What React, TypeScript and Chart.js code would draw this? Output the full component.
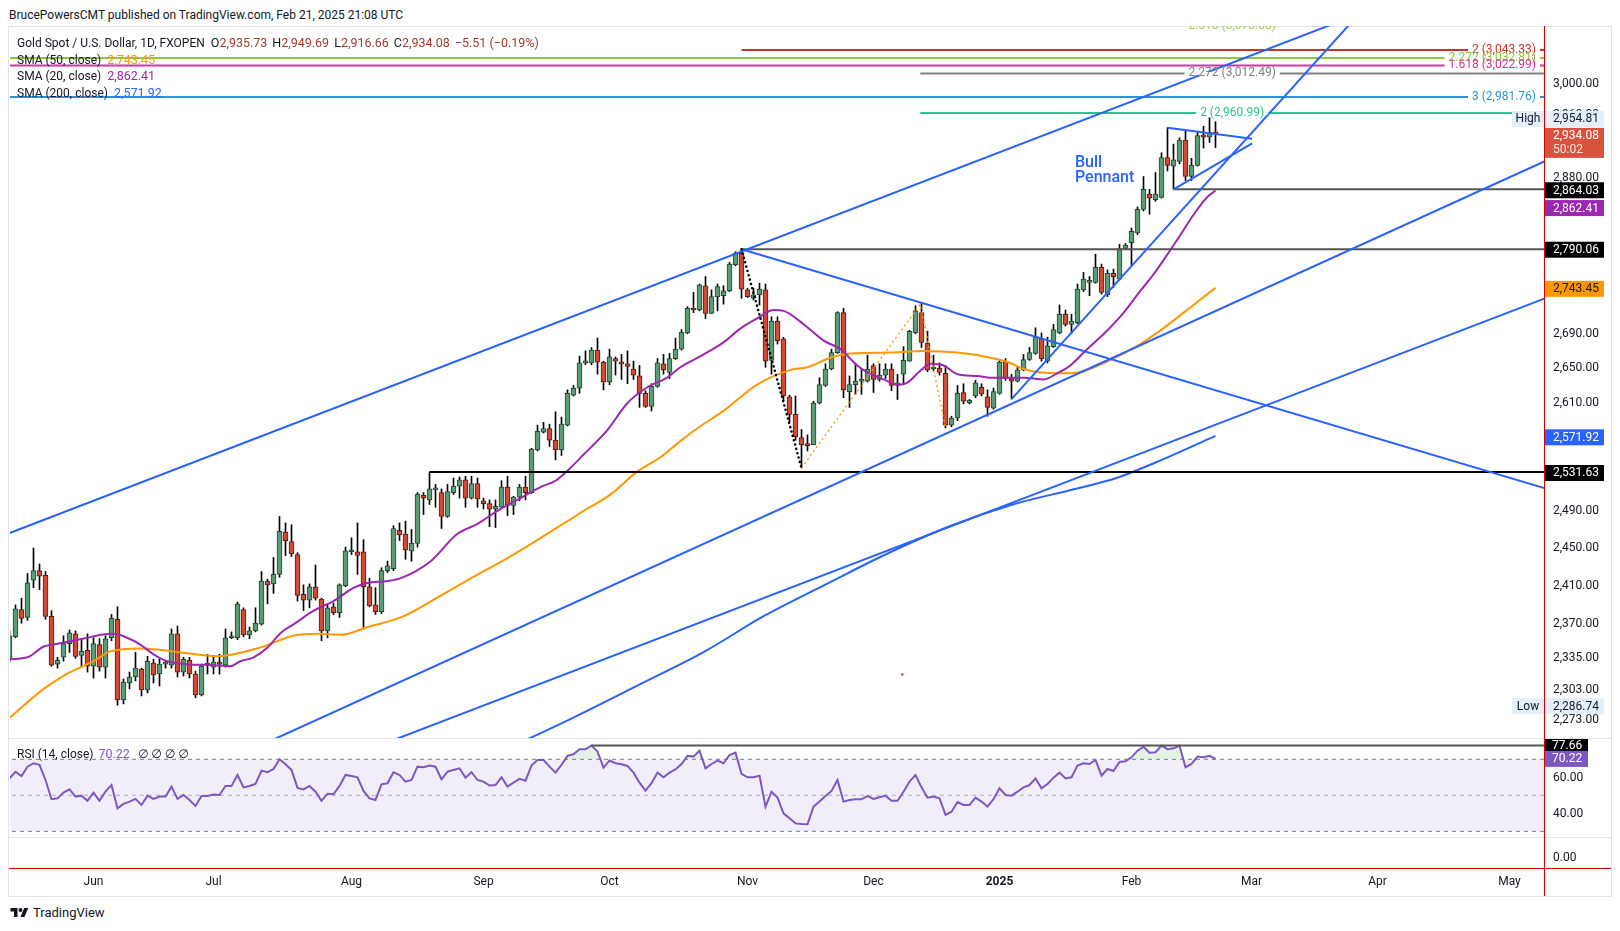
import React, { useEffect, useRef } from 'react';
import { Chart, registerables } from 'chart.js';

Chart.register(...registerables);

const FONT = 'Roboto, "Noto Sans", "DejaVu Sans", sans-serif';
const TEXT = '#131722';

// ---------------- candles (XAUUSD daily, May 14 2024 .. Feb 21 2025) ----------------
const opens = [
  2334, 2356, 2384, 2376, 2415, 2425, 2420, 2377, 2328, 2335,
  2349, 2359, 2337, 2342, 2326, 2348, 2325, 2355, 2374, 2292,
  2309, 2315, 2323, 2302, 2329, 2318, 2328, 2327, 2359, 2320,
  2332, 2318, 2297, 2327, 2325, 2330, 2327, 2355, 2355, 2384,
  2358, 2362, 2369, 2414, 2411, 2421, 2466, 2456, 2442, 2400,
  2394, 2408, 2395, 2362, 2387, 2381, 2409, 2445, 2445, 2445,
  2408, 2389, 2382, 2425, 2427, 2468, 2464, 2446, 2454, 2506,
  2501, 2512, 2509, 2483, 2509, 2516, 2523, 2503, 2519, 2500,
  2497, 2491, 2493, 2515, 2495, 2504, 2515, 2509, 2556, 2576,
  2580, 2567, 2556, 2584, 2618, 2626, 2655, 2655, 2670, 2656,
  2633, 2660, 2656, 2654, 2648, 2640, 2620, 2605, 2628, 2654,
  2644, 2660, 2671, 2690, 2718, 2717, 2746, 2713, 2733, 2734,
  2740, 2771, 2785, 2741, 2731, 2735, 2741, 2658, 2704, 2683,
  2616, 2596, 2570, 2563, 2562, 2609, 2629, 2648, 2667, 2714,
  2622, 2630, 2634, 2634, 2652, 2636, 2641, 2648, 2629, 2642,
  2657, 2690, 2714, 2678, 2648, 2649, 2643, 2584, 2592, 2621,
  2609, 2617, 2627, 2616, 2603, 2620, 2656, 2637, 2634, 2647,
  2659, 2666, 2683, 2657, 2674, 2690, 2712, 2700, 2702, 2741,
  2750, 2750, 2768, 2735, 2761, 2754, 2791, 2798, 2810, 2839,
  2858, 2851, 2854, 2904, 2893, 2899, 2926, 2880, 2894, 2933,
  2930, 2935.73,
];
const highs = [
  2362, 2389, 2396, 2422, 2449, 2432, 2424, 2383, 2335, 2357,
  2363, 2362, 2354, 2359, 2355, 2354, 2357, 2379, 2387, 2313,
  2320, 2340, 2324, 2336, 2333, 2333, 2332, 2364, 2367, 2335,
  2335, 2321, 2328, 2338, 2337, 2338, 2364, 2361, 2392, 2386,
  2366, 2386, 2424, 2416, 2439, 2483, 2476, 2474, 2444, 2410,
  2411, 2431, 2396, 2390, 2391, 2411, 2450, 2460, 2476, 2458,
  2417, 2407, 2428, 2435, 2473, 2476, 2478, 2469, 2509, 2509,
  2531.63, 2518, 2513, 2518, 2525, 2526, 2527, 2527, 2525, 2503,
  2501, 2501, 2522, 2527, 2505, 2518, 2527, 2558, 2584, 2587,
  2585, 2599, 2593, 2624, 2629, 2663, 2669, 2673, 2684, 2657,
  2671, 2662, 2665, 2669, 2657, 2652, 2623, 2631, 2660, 2665,
  2666, 2684, 2694, 2721, 2738, 2748, 2757, 2741, 2748, 2746,
  2774, 2787, 2790.06, 2743, 2743, 2749, 2748, 2709, 2709, 2685,
  2618, 2617, 2579, 2573, 2611, 2638, 2654, 2671, 2715, 2719,
  2640, 2655, 2648, 2664, 2654, 2654, 2654, 2654, 2642, 2674,
  2693, 2722, 2725, 2692, 2664, 2655, 2652, 2594, 2629, 2631,
  2613, 2635, 2631, 2624, 2626, 2658, 2660, 2642, 2650, 2665,
  2673, 2696, 2690, 2685, 2700, 2723, 2717, 2712, 2748, 2762,
  2757, 2784, 2772, 2765, 2766, 2796, 2797, 2816, 2842, 2880,
  2864, 2885, 2910, 2942, 2921, 2929, 2938, 2903, 2936, 2944,
  2954.81, 2949.69,
];
const lows = [
  2330, 2355, 2370, 2373, 2407, 2405, 2374, 2326, 2324, 2331,
  2340, 2334, 2325, 2320, 2314, 2321, 2314, 2352, 2286.74, 2288,
  2303, 2311, 2296, 2299, 2309, 2306, 2324, 2324, 2315, 2316,
  2314, 2294, 2296, 2318, 2318, 2318, 2325, 2354, 2353, 2356,
  2354, 2361, 2368, 2390, 2401, 2418, 2441, 2440, 2393, 2383,
  2386, 2394, 2352, 2355, 2379, 2376, 2408, 2442, 2421, 2364,
  2387, 2379, 2380, 2423, 2425, 2457, 2437, 2435, 2450, 2485,
  2496, 2493, 2470, 2482, 2507, 2503, 2493, 2502, 2493, 2491,
  2472, 2471, 2492, 2484, 2485, 2500, 2501, 2508, 2555, 2575,
  2560, 2545, 2550, 2583, 2617, 2620, 2653, 2653, 2642, 2624,
  2630, 2641, 2636, 2631, 2636, 2604, 2604, 2600, 2627, 2642,
  2637, 2659, 2670, 2689, 2714, 2716, 2707, 2713, 2716, 2724,
  2739, 2770, 2731, 2732, 2729, 2723, 2650, 2642, 2677, 2611,
  2587, 2567, 2536, 2555, 2562, 2608, 2628, 2647, 2666, 2615,
  2604, 2619, 2619, 2633, 2621, 2634, 2637, 2623, 2613, 2630,
  2657, 2689, 2673, 2645, 2646, 2641, 2581, 2582, 2589, 2608,
  2608, 2615, 2617, 2594, 2602, 2619, 2635, 2613.5, 2633, 2646,
  2658, 2665, 2657, 2655, 2673, 2689, 2698, 2689, 2701, 2739,
  2734, 2749, 2736, 2733, 2744, 2753, 2790, 2770, 2808, 2837,
  2833, 2849, 2853, 2887, 2864.03, 2896, 2875, 2875, 2893, 2916,
  2923, 2916.66,
];
const closes = [
  2357, 2385, 2375, 2412, 2425, 2419, 2377, 2327, 2332, 2349,
  2360, 2336, 2341, 2326, 2349, 2325, 2354, 2375, 2292, 2310,
  2315, 2324, 2302, 2331, 2317, 2328, 2329, 2359, 2320, 2333,
  2318, 2297, 2326, 2329, 2330, 2328, 2355, 2356, 2390, 2358,
  2362, 2370, 2414, 2410, 2421, 2467, 2457, 2443, 2399, 2394,
  2408, 2396, 2362, 2386, 2381, 2410, 2446, 2446, 2441, 2408,
  2388, 2382, 2425, 2430, 2470, 2463, 2447, 2454, 2507, 2503,
  2513, 2512, 2483, 2510, 2516, 2523, 2503, 2519, 2502, 2497,
  2491, 2494, 2515, 2495, 2504, 2515, 2509, 2557, 2577, 2580,
  2567, 2556, 2585, 2620, 2626, 2655, 2656, 2670, 2656, 2633,
  2662, 2657, 2654, 2651, 2641, 2620, 2605, 2628, 2655, 2647,
  2660, 2671, 2691, 2719, 2717, 2747, 2713, 2733, 2745, 2740,
  2772, 2785, 2742, 2733, 2735, 2742, 2657, 2704, 2681, 2617,
  2596, 2571, 2562, 2561, 2609, 2630, 2648, 2667, 2714, 2624,
  2630, 2634, 2636, 2648, 2636, 2641, 2648, 2629, 2632, 2658,
  2692, 2716, 2679, 2647, 2650, 2644, 2584, 2592, 2620, 2611,
  2612, 2632, 2619, 2604, 2622, 2656, 2637, 2634, 2647, 2659,
  2667, 2685, 2660, 2675, 2694, 2712, 2700, 2704, 2742, 2754,
  2752, 2768, 2738, 2761, 2757, 2791, 2795, 2812, 2839, 2864,
  2853, 2858, 2904, 2894, 2901, 2926, 2880, 2894, 2932, 2930,
  2936, 2934.08,
];
const lastChange = -5.51;
const lastChangePct = -0.19;

// ---------------- RSI(14) per bar ----------------
const rsi = [
  59.4, 63.1, 60.7, 65.9, 67.8, 66.9, 58.5, 47.8, 48.3, 51.5,
  53.3, 49.3, 49.8, 47.0, 51.5, 47.0, 52.0, 55.7, 42.8, 45.2,
  46.5, 48.0, 44.6, 49.8, 48.0, 49.3, 49.3, 54.8, 48.0, 50.2,
  47.4, 44.1, 49.6, 49.6, 50.4, 50.2, 55.2, 55.2, 61.3, 54.4,
  55.2, 56.3, 63.7, 62.8, 64.6, 70.0, 67.2, 64.1, 54.1, 53.3,
  55.2, 52.0, 46.9, 50.9, 50.6, 55.2, 61.3, 60.7, 60.0, 52.4,
  48.3, 47.4, 56.1, 56.7, 62.8, 61.3, 57.6, 58.5, 65.9, 65.6,
  66.5, 65.9, 58.9, 63.1, 64.1, 65.0, 59.8, 62.8, 58.5, 57.6,
  55.4, 55.7, 60.0, 54.8, 57.0, 59.1, 58.1, 66.5, 69.6, 69.6,
  65.9, 62.6, 66.9, 71.9, 72.8, 75.6, 75.6, 77.66, 74.3, 65.4,
  69.3, 67.8, 67.2, 66.3, 62.6, 57.0, 52.6, 56.7, 62.6, 60.0,
  62.6, 64.4, 67.4, 71.9, 71.5, 74.8, 65.0, 67.4, 69.3, 67.8,
  72.4, 73.7, 61.9, 60.0, 60.0, 60.9, 43.7, 52.0, 48.7, 40.0,
  37.2, 34.4, 34.0, 33.9, 43.7, 46.5, 49.6, 52.4, 58.5, 46.5,
  47.4, 47.8, 47.8, 49.6, 48.0, 48.9, 49.8, 47.0, 47.0, 52.0,
  57.6, 61.3, 54.4, 48.7, 49.3, 48.3, 39.1, 40.9, 46.3, 44.6,
  44.6, 48.7, 46.5, 43.7, 47.8, 53.9, 50.2, 49.8, 52.0, 54.4,
  55.7, 59.4, 53.9, 56.3, 59.8, 62.6, 59.4, 60.0, 66.5, 67.8,
  67.4, 69.6, 60.9, 64.6, 63.5, 68.5, 68.9, 71.1, 74.8, 77.0,
  73.7, 73.9, 77.6, 75.6, 76.1, 77.6, 65.6, 67.4, 71.5, 71.1,
  71.9, 70.22,
];
const rsiHighLevel = 77.66;
const rsiHighFrom = 97;

// ---------------- moving averages (read at bar positions) ----------------
const sma20Idx = [0, 3, 5.7, 7.4, 13, 15.2, 17.4, 19.6, 21.8, 24, 26.3, 29.6, 34, 36.8, 38.5, 40.7, 43, 45.2, 47.4, 50.7,
  54, 57.4, 59.6, 63, 65.2, 70.2, 74.6, 78, 81.3, 85.2, 88.5, 91, 93, 95.7, 99.6, 103, 106.3, 109.6, 111.8, 115.2,
  119, 121.8, 124.6, 127.4, 129, 132.4, 135.7, 138.5, 141.3, 143, 145.7, 148, 149.6, 151.8, 153.5, 155.7, 158, 161.3, 163.5, 166.8,
  169, 172.4, 174.6, 176.8, 179.6, 182.4, 185.7, 188.5, 190.7, 193, 195.2, 197.4, 199.6, 201];
const sma20Val = [2333, 2335, 2346, 2348, 2355, 2358, 2359, 2355, 2348, 2338, 2331, 2328, 2327, 2326, 2331, 2335, 2345, 2360, 2369, 2383,
  2393, 2407, 2412, 2414, 2417, 2435, 2464, 2475, 2489, 2503, 2515, 2522, 2533, 2551, 2578, 2609, 2627, 2638, 2650, 2663,
  2679, 2695, 2707, 2717, 2716, 2700, 2681, 2671, 2652, 2644, 2636, 2630, 2632, 2646, 2654, 2652, 2642, 2640, 2638, 2638,
  2638, 2636, 2643, 2652, 2671, 2689, 2714, 2740, 2760, 2784, 2808, 2833, 2854, 2862.41];

const sma50Idx = [0, 5.7, 9.5, 14, 16.8, 21.8, 29.7, 34.7, 41.8, 47.3, 51.3, 55.2, 59.7, 65.2, 72.5, 77.5, 82.1, 86.8, 91.8, 95.7,
  100.2, 104.6, 108.5, 111.8, 115.2, 119, 124.6, 130.2, 133, 136.8, 140.2, 146.8, 152.4, 158, 163.5, 166.8, 169, 174.6, 178, 183,
  188, 192.4, 196.8, 201];
const sma50Val = [2274, 2303, 2318, 2331, 2341, 2344, 2339, 2336, 2345, 2357, 2359, 2358, 2366, 2376, 2401, 2419, 2435, 2453, 2473, 2489,
  2507, 2532, 2548, 2566, 2583, 2600, 2630, 2647, 2650, 2661, 2666, 2667, 2669, 2667, 2661, 2655, 2648, 2643, 2644, 2657,
  2675, 2696, 2720, 2743.45];

const sma200Idx = [80, 86.3, 94.9, 105.2, 115.6, 125.9, 136.2, 146.6, 156.9, 167.2, 177.6, 184.5, 191.3, 201];
const sma200Val = [2238, 2253, 2277, 2308, 2340, 2378, 2411, 2444, 2473, 2496, 2513, 2525, 2543, 2571.92];

// ---------------- drawings ----------------
const trendFromIdx = [0, 122, 44.3, 64.45, 167, 193, 194];
const trendFromPrice = [2465, 2790.06, 2253.5, 2253.2, 2613.5, 2942, 2864.03];
const trendToIdx = [256, 255.8, 255.8, 255.8, 225.2, 207.1, 207.1];
const trendToPrice = [3190, 2514, 2899, 2730.5, 3094.4, 2928, 2922];

const levelPrice = [2790.06, 2864.03, 2531.63];
const levelFrom = [122, 194, 70];
const levelColor = ['#555555', '#555555', '#000000'];

const fibPrice = [3073.08, 3043.33, 3032.81, 3022.99, 3012.49, 2981.76, 2960.99];
const fibText = ['2.618 (3,073.08)', '2 (3,043.33)', '2.272 (3,032.81)', '1.618 (3,022.99)', '2.272 (3,012.49)', '3 (2,981.76)', '2 (2,960.99)'];
const fibFrom = [151.8, 122, 0, 0, 151.8, 0, 151.8];
const fibColor = ['#a8c95a', '#d12f2f', '#8fc63c', '#d2359c', '#808080', '#2e95d3', '#2fc48d'];
const fibAlign = ['center', 'right', 'right', 'right', 'center', 'right', 'center'];
const fibLineShown = [false, true, true, true, true, true, true];

const dotBlackIdx = [122, 132];
const dotBlackPrice = [2790.06, 2536];
const dotOrangeIdx = [132, 151.8, 156];
const dotOrangePrice = [2536, 2724, 2581];

const markIdx = [148.8];
const markPrice = [2317.5];

// ---------------- axes ----------------
const monthIdx = [14, 34, 57, 79, 100, 123, 144, 165, 187, 207, 228, 250];
const monthLabels = ['Jun', 'Jul', 'Aug', 'Sep', 'Oct', 'Nov', 'Dec', '2025', 'Feb', 'Mar', 'Apr', 'May'];
const priceTicks = [3000, 2960, 2880, 2690, 2650, 2610, 2490, 2450, 2410, 2370, 2335, 2303, 2273];
const rsiTicks = [60, 40];

const axisLabelValue = [2954.81, 2934.08, 2864.03, 2862.41, 2790.06, 2743.45, 2571.92, 2531.63, 2286.74];
const axisLabelBg = ['#e3effd', '#d9523e', '#000000', '#9c27b0', '#000000', '#ff9800', '#2962ff', '#000000', '#e3effd'];
const axisLabelFg = ['#131722', '#ffffff', '#ffffff', '#ffffff', '#ffffff', '#131722', '#ffffff', '#ffffff', '#131722'];
const axisLabelTag = ['High', '', '', '', '', '', '', '', 'Low'];
const axisLabelShift = [1.2, 0, 1, 17.5, 0.5, 1, 1.5, 1, 1];
const countdown = '50:02';

const X_MIN = 0.5 / 6;
const X_MAX = X_MIN + 1534 / 6;
const P_MIN = 2254.2;
const P_MAX = 3075.5;
const R_MIN = 26.83;
const R_MAX = 81.83;

const UP_FILL = '#5b9b76';
const UP_LINE = '#1d4a2f';
const DN_FILL = '#d24a35';
const DN_LINE = '#5c1b12';
const OHLC_COLOR = '#a23b2f';

const fmt = (v: number) => v.toLocaleString('en-US', { minimumFractionDigits: 2, maximumFractionDigits: 2 });

const yFit = (w: number) => (s: any) => {
  s.width = w;
  s.paddingTop = 0;
  s.paddingBottom = 0;
};

const pts = (xs: number[], ys: number[]) => xs.map((x, k) => ({ x, y: ys[k] }));

function lineDs(data: any[], color: string, width: number, order: number, extra: any = {}) {
  return {
    type: 'line', data, borderColor: color, borderWidth: width,
    pointRadius: 0, pointHoverRadius: 0, pointHitRadius: 0,
    fill: false, tension: 0, order, ...extra,
  };
}

const baseLayout = { autoPadding: false, padding: { left: 10, right: 0, top: 0, bottom: 0 } };

const fibPlugin = {
  id: 'fibLabels',
  afterDatasetsDraw(chart: any) {
    const { ctx, chartArea: a, scales } = chart;
    const x = scales.x;
    const y = scales.y;
    ctx.save();
    ctx.beginPath();
    ctx.rect(a.left, a.top, a.right - a.left, a.bottom - a.top);
    ctx.clip();
    ctx.font = `12px ${FONT}`;
    ctx.textBaseline = 'middle';
    const items = fibPrice.map((p, k) => {
      const py = y.getPixelForValue(p);
      const w = ctx.measureText(fibText[k]).width;
      const x0 = Math.max(x.getPixelForValue(fibFrom[k]), a.left);
      const tx = fibAlign[k] === 'right' ? a.right - 8 - w : (x0 + a.right) / 2 - w / 2;
      return { py, w, tx, k };
    });
    items.forEach(({ py, w, tx, k }) => {
      if (!fibLineShown[k]) return;
      ctx.fillStyle = '#ffffff';
      ctx.fillRect(tx - 4, py - 1.5, w + 8, 3);
    });
    items.forEach(({ py, tx, k }) => {
      ctx.fillStyle = fibColor[k];
      ctx.fillText(fibText[k], tx, k === 0 ? py - 2 : py);
    });
    ctx.restore();
  },
};

const priceLabelPlugin = {
  id: 'priceLabels',
  afterDraw(chart: any) {
    const { ctx, chartArea: a, scales } = chart;
    const y = scales.y;
    ctx.save();
    ctx.font = `12px ${FONT}`;
    ctx.textBaseline = 'middle';
    ctx.textAlign = 'left';
    axisLabelValue.forEach((v, k) => {
      const py = y.getPixelForValue(v) + axisLabelShift[k];
      const x0 = a.right + 1;
      ctx.fillStyle = axisLabelBg[k];
      if (k === 1) {
        ctx.fillRect(x0, py - 6, 59, 30);
        ctx.fillStyle = axisLabelFg[k];
        ctx.fillText(fmt(v), x0 + 8, py + 2.5);
        ctx.fillStyle = 'rgba(255,255,255,0.85)';
        ctx.fillText(countdown, x0 + 8, py + 16);
        return;
      }
      ctx.fillRect(x0, py - 8, 59, 16);
      ctx.fillStyle = axisLabelFg[k];
      ctx.fillText(fmt(v), x0 + 8, py + 0.5);
      if (axisLabelTag[k]) {
        ctx.fillStyle = axisLabelBg[k];
        ctx.fillRect(a.right - 32, py - 8, 32, 16);
        ctx.fillStyle = '#131722';
        ctx.textAlign = 'center';
        ctx.fillText(axisLabelTag[k], a.right - 16, py + 0.5);
        ctx.textAlign = 'left';
      }
    });
    ctx.restore();
  },
};

const rsiLabelPlugin = {
  id: 'rsiLabels',
  afterDraw(chart: any) {
    const { ctx, chartArea: a, scales } = chart;
    const y = scales.y;
    ctx.save();
    ctx.font = `12px ${FONT}`;
    ctx.textBaseline = 'middle';
    const vals = [rsiHighLevel, rsi[rsi.length - 1]];
    const bgs = ['#000000', '#7e57c2'];
    vals.forEach((v, k) => {
      const py = y.getPixelForValue(v);
      ctx.fillStyle = bgs[k];
      ctx.fillRect(a.right + 1, py - 8, 43, 16);
      ctx.fillStyle = '#ffffff';
      ctx.fillText(fmt(v), a.right + 8, py + 0.5);
    });
    ctx.restore();
  },
};

function mainConfig() {
  const ix = opens.map((_, i) => i);
  const isUp = ix.map((i) => closes[i] >= opens[i]);
  const datasets: any[] = [];
  datasets.push({
    type: 'bar',
    data: ix.map((i) => ({ x: i, y: [lows[i], highs[i]] })),
    backgroundColor: '#000000',
    borderWidth: 0,
    barThickness: 1,
    grouped: false,
    order: 30,
  });
  datasets.push({
    type: 'bar',
    data: ix.map((i) => ({ x: i, y: [opens[i], closes[i]] })),
    backgroundColor: ix.map((i) => (isUp[i] ? UP_FILL : DN_FILL)),
    borderColor: ix.map((i) => (isUp[i] ? UP_LINE : DN_LINE)),
    borderWidth: 1,
    borderSkipped: false,
    barThickness: 5,
    minBarLength: 2,
    grouped: false,
    order: 29,
  });
  datasets.push(lineDs(pts(sma200Idx, sma200Val), '#2962ff', 2, 14, { cubicInterpolationMode: 'monotone' }));
  datasets.push(lineDs(pts(sma50Idx, sma50Val), '#ff9800', 2, 13, { cubicInterpolationMode: 'monotone' }));
  datasets.push(lineDs(pts(sma20Idx, sma20Val), '#9c27b0', 2, 12, { cubicInterpolationMode: 'monotone' }));
  levelPrice.forEach((p, k) => {
    datasets.push(lineDs([{ x: levelFrom[k], y: p }, { x: X_MAX + 1, y: p }], levelColor[k], 2, 8));
  });
  fibPrice.forEach((p, k) => {
    if (!fibLineShown[k]) return;
    datasets.push(lineDs([{ x: fibFrom[k], y: p }, { x: X_MAX + 1, y: p }], fibColor[k], 2, 7));
  });
  trendFromIdx.forEach((fx, k) => {
    datasets.push(lineDs([{ x: fx, y: trendFromPrice[k] }, { x: trendToIdx[k], y: trendToPrice[k] }], '#2962ff', 2, 5));
  });
  datasets.push(lineDs(pts(dotBlackIdx, dotBlackPrice), '#000000', 2.6, 4, { borderDash: [0, 4.5], borderCapStyle: 'round' }));
  datasets.push(lineDs(pts(dotOrangeIdx, dotOrangePrice), '#ff9800', 1.4, 4, { borderDash: [2, 3] }));
  datasets.push({
    type: 'line',
    data: pts(markIdx, markPrice),
    showLine: false,
    pointRadius: 1.3,
    pointHoverRadius: 0,
    pointBorderWidth: 0,
    pointBackgroundColor: '#e53935',
    order: 3,
  });

  return {
    type: 'bar',
    data: { datasets },
    options: {
      responsive: false,
      maintainAspectRatio: false,
      animation: false,
      events: [],
      layout: baseLayout,
      plugins: { legend: { display: false }, tooltip: { enabled: false } },
      scales: {
        x: { type: 'linear', min: X_MIN, max: X_MAX, display: false, offset: false, grid: { display: false } },
        y: {
          type: 'logarithmic',
          position: 'right',
          min: P_MIN,
          max: P_MAX,
          grid: { display: false, drawTicks: false },
          border: { display: false },
          ticks: {
            color: TEXT, font: { family: FONT, size: 12 }, padding: 9, labelOffset: 1, autoSkip: false,
            callback: (v: any) => fmt(Number(v)),
          },
          afterBuildTicks: (s: any) => {
            s.ticks = priceTicks.map((v) => ({ value: v }));
          },
          afterFit: yFit(66),
        },
      },
    },
    plugins: [fibPlugin, priceLabelPlugin],
  };
}

function rsiConfig() {
  const band = (v: number) => [{ x: X_MIN - 1, y: v }, { x: X_MAX + 1, y: v }];
  const datasets: any[] = [
    lineDs(band(70), '#787b86', 1, 10, { borderDash: [4, 4], fill: '+1', backgroundColor: 'rgba(126,87,194,0.1)' }),
    lineDs(band(30), '#787b86', 1, 9, { borderDash: [4, 4] }),
    lineDs(band(50), 'rgba(120,123,134,0.55)', 1, 8, { borderDash: [4, 4] }),
    lineDs(rsi.map((v, i) => ({ x: i, y: v })), '#7e57c2', 2, 2, {
      fill: { target: { value: 70 }, above: 'rgba(76,175,80,0.16)', below: 'rgba(0,0,0,0)' },
    }),
    lineDs([{ x: rsiHighFrom, y: rsiHighLevel }, { x: X_MAX + 1, y: rsiHighLevel }], '#555555', 2, 1),
  ];
  return {
    type: 'line',
    data: { datasets },
    options: {
      responsive: false,
      maintainAspectRatio: false,
      animation: false,
      events: [],
      layout: baseLayout,
      plugins: { legend: { display: false }, tooltip: { enabled: false } },
      scales: {
        x: { type: 'linear', min: X_MIN, max: X_MAX, display: false, offset: false },
        y: {
          type: 'linear',
          position: 'right',
          min: R_MIN,
          max: R_MAX,
          grid: { display: false, drawTicks: false },
          border: { display: false },
          ticks: {
            color: TEXT, font: { family: FONT, size: 12 }, padding: 9, labelOffset: 1, autoSkip: false,
            callback: (v: any) => fmt(Number(v)),
          },
          afterBuildTicks: (s: any) => {
            s.ticks = rsiTicks.map((v) => ({ value: v }));
          },
          afterFit: yFit(66),
        },
      },
    },
    plugins: [rsiLabelPlugin],
  };
}

function bottomConfig() {
  return {
    type: 'line',
    data: { datasets: [] },
    options: {
      responsive: false,
      maintainAspectRatio: false,
      animation: false,
      events: [],
      layout: baseLayout,
      plugins: { legend: { display: false }, tooltip: { enabled: false } },
      scales: {
        x: {
          type: 'linear',
          position: 'bottom',
          min: X_MIN,
          max: X_MAX,
          offset: false,
          grid: { display: false, drawTicks: false },
          border: { display: false },
          ticks: {
            autoSkip: false,
            maxRotation: 0,
            padding: 7,
            color: TEXT,
            font: (c: any) => ({ family: FONT, size: 12, weight: c.tick && c.tick.value === monthIdx[7] ? 'bold' : 'normal' }),
            callback: (v: any) => {
              const k = monthIdx.indexOf(Number(v));
              return k >= 0 ? monthLabels[k] : '';
            },
          },
          afterBuildTicks: (s: any) => {
            s.ticks = monthIdx.map((v) => ({ value: v }));
          },
          afterFit: (s: any) => {
            s.height = 27;
            s.paddingLeft = 0;
            s.paddingRight = 0;
          },
        },
        y: {
          type: 'linear',
          position: 'right',
          min: -1,
          max: 2.1,
          grid: { display: false, drawTicks: false },
          border: { display: false },
          ticks: { color: TEXT, font: { family: FONT, size: 12 }, padding: 9, callback: (v: any) => fmt(Number(v)) },
          afterBuildTicks: (s: any) => {
            s.ticks = [{ value: 0 }];
          },
          afterFit: yFit(66),
        },
      },
    },
  };
}

const abs = (left: number, top: number, extra: any = {}) => ({ position: 'absolute' as const, left, top, ...extra });

export default function App() {
  const mainRef = useRef<HTMLCanvasElement | null>(null);
  const rsiRef = useRef<HTMLCanvasElement | null>(null);
  const botRef = useRef<HTMLCanvasElement | null>(null);

  useEffect(() => {
    document.body.style.margin = '0';
    const charts: any[] = [];
    if (mainRef.current) charts.push(new Chart(mainRef.current, mainConfig() as any));
    if (rsiRef.current) charts.push(new Chart(rsiRef.current, rsiConfig() as any));
    if (botRef.current) charts.push(new Chart(botRef.current, bottomConfig() as any));
    return () => charts.forEach((c) => c.destroy());
  }, []);

  const last = opens.length - 1;
  const nowrap = { whiteSpace: 'nowrap' as const, lineHeight: '14px' };
  const sign = (v: number) => (v < 0 ? '\u2212' : '+') + Math.abs(v).toFixed(2);
  const num = { fontSize: 12.5 };

  return (
    <div style={{ position: 'absolute', left: 0, top: 0, width: 1620, height: 931, background: '#ffffff', overflow: 'hidden', fontFamily: FONT, color: TEXT }}>
      <div style={abs(9, 8, { ...nowrap, fontSize: 12 })}>BrucePowersCMT published on TradingView.com, Feb 21, 2025 21:08 UTC</div>
      <div style={abs(8, 26, { width: 1604, height: 871, border: '1px solid #e0e3eb', boxSizing: 'border-box' })} />

      <canvas ref={mainRef} width={1610} height={712} style={abs(0, 26, { width: 1610, height: 712, display: 'block' })} />
      <canvas ref={rsiRef} width={1610} height={99} style={abs(0, 738, { width: 1610, height: 99, display: 'block' })} />
      <canvas ref={botRef} width={1610} height={58} style={abs(0, 837, { width: 1610, height: 58, display: 'block' })} />

      <div style={abs(9, 738, { width: 1602, height: 1, background: '#e0e3eb' })} />
      <div style={abs(9, 837, { width: 1602, height: 1, background: '#e0e3eb' })} />
      <div style={abs(9, 868, { width: 1602, height: 1, background: '#d50000' })} />
      <div style={abs(1544, 26, { width: 1, height: 870, background: '#d50000' })} />

      <div style={abs(17, 34.5, nowrap)}>
        <span style={{ fontSize: 12 }}>Gold Spot / U.S. Dollar, 1D, FXOPEN</span>
        <span style={{ ...num, marginLeft: 6 }}>O</span><span style={{ ...num, color: OHLC_COLOR }}>{fmt(opens[last])}</span>
        <span style={{ ...num, marginLeft: 5 }}>H</span><span style={{ ...num, color: OHLC_COLOR }}>{fmt(highs[last])}</span>
        <span style={{ ...num, marginLeft: 5 }}>L</span><span style={{ ...num, color: OHLC_COLOR }}>{fmt(lows[last])}</span>
        <span style={{ ...num, marginLeft: 5 }}>C</span><span style={{ ...num, color: OHLC_COLOR }}>{fmt(closes[last])}</span>
        <span style={{ ...num, marginLeft: 5, color: OHLC_COLOR }}>{`${sign(lastChange)} (${sign(lastChangePct)}%)`}</span>
      </div>
      <div style={abs(17, 51.5, nowrap)}>
        <span style={{ fontSize: 12 }}>SMA (50, close)</span>
        <span style={{ ...num, marginLeft: 6, color: '#ff9800' }}>{fmt(sma50Val[sma50Val.length - 1])}</span>
      </div>
      <div style={abs(17, 68, nowrap)}>
        <span style={{ fontSize: 12 }}>SMA (20, close)</span>
        <span style={{ ...num, marginLeft: 6, color: '#9c27b0' }}>{fmt(sma20Val[sma20Val.length - 1])}</span>
      </div>
      <div style={abs(17, 84.5, nowrap)}>
        <span style={{ fontSize: 12 }}>SMA (200, close)</span>
        <span style={{ ...num, marginLeft: 6, color: '#2962ff' }}>{fmt(sma200Val[sma200Val.length - 1])}</span>
      </div>
      <div style={abs(17, 745.5, nowrap)}>
        <span style={{ fontSize: 12 }}>RSI (14, close)</span>
        <span style={{ ...num, marginLeft: 5, color: '#7e57c2' }}>{fmt(rsi[rsi.length - 1])}</span>
        <span style={{ fontSize: 12, marginLeft: 8 }}>{'\u2205  \u2205  \u2205  \u2205'}</span>
      </div>

      <div style={abs(1075, 153.5, { fontSize: 16, fontWeight: 500, lineHeight: '15.5px', color: '#2962ff', whiteSpace: 'nowrap' })}>
        Bull<br />Pennant
      </div>

      <div style={abs(10, 906, { display: 'flex', alignItems: 'center' })}>
        <svg width="19" height="14" viewBox="0 0 36 28">
          <path d="M14 22H7V11H0V4h14v18zM28 22h-8l7.5-18h8L28 22z" fill="#131722" />
          <circle cx="20" cy="8" r="4" fill="#131722" />
        </svg>
        <span style={{ marginLeft: 4, fontSize: 13, lineHeight: '14px' }}>TradingView</span>
      </div>
    </div>
  );
}
